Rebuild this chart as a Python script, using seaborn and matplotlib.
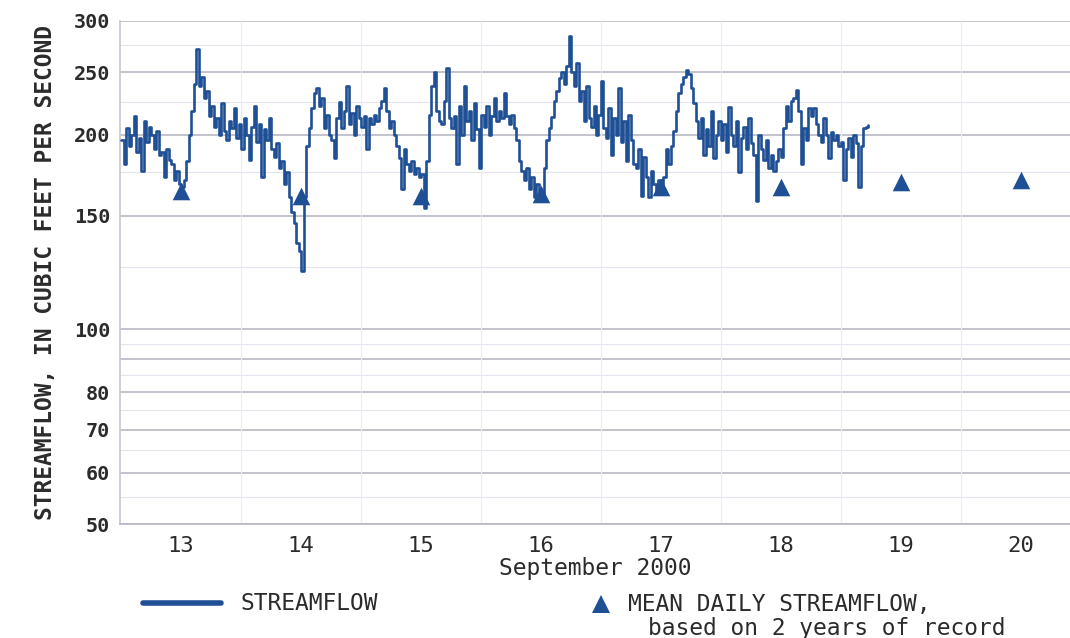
import numpy as np
import pandas as pd
import seaborn as sns
import matplotlib.pyplot as plt
from matplotlib.lines import Line2D

# 30-minute streamflow readings, cubic feet per second
flow = [
    196, 180, 205, 192, 200, 214, 188, 198, 176, 210, 195, 206,
    200, 190, 203, 186, 188, 172, 190, 183, 180, 170, 176, 168,
    166, 170, 182, 200, 218, 240, 272, 238, 246, 228, 234, 214,
    222, 206, 212, 200, 224, 203, 196, 210, 205, 220, 198, 208,
    190, 212, 200, 183, 206, 222, 195, 208, 172, 204, 196, 212,
    190, 185, 194, 178, 182, 168, 175, 160, 152, 146, 136, 132,
    123, 160, 192, 205, 220, 232, 236, 222, 228, 205, 215, 200,
    196, 184, 212, 225, 205, 218, 238, 208, 216, 200, 222, 212,
    206, 214, 190, 212, 208, 215, 210, 220, 226, 236, 218, 205,
    210, 200, 192, 184, 165, 190, 180, 176, 182, 174, 178, 172,
    174, 154, 182, 215, 238, 250, 218, 210, 208, 226, 254, 212,
    205, 214, 180, 222, 200, 238, 210, 218, 196, 224, 204, 178,
    215, 206, 222, 200, 214, 228, 210, 218, 212, 232, 214, 208,
    215, 205, 196, 182, 176, 170, 178, 165, 172, 160, 168, 162,
    162, 178, 196, 205, 213, 226, 234, 245, 250, 240, 256, 284,
    250, 238, 258, 226, 234, 210, 238, 212, 206, 222, 200, 215,
    242, 205, 198, 220, 186, 212, 200, 236, 195, 210, 182, 215,
    196, 180, 178, 190, 161, 185, 172, 160, 176, 168, 164, 170,
    166, 172, 190, 180, 192, 203, 218, 232, 240, 246, 252, 248,
    236, 224, 210, 198, 212, 186, 204, 192, 218, 184, 200, 210,
    196, 208, 188, 221, 200, 192, 210, 175, 198, 206, 190, 212,
    194, 186, 158, 200, 190, 183, 196, 178, 186, 176, 182, 190,
    185, 205, 222, 210, 226, 228, 235, 218, 180, 205, 196, 220,
    214, 220, 208, 200, 195, 212, 200, 184, 202, 196, 200, 192,
    195, 170, 190, 198, 185, 200, 194, 166, 192, 205, 206, 207,
]
start_day = 12.5

mean_days = [13, 14, 15, 16, 17, 18, 19, 20]
mean_flow = [164, 161, 161, 162, 166, 166, 169, 170]

y_ticks = [50, 60, 70, 80, 100, 150, 200, 250, 300]
grid_major = [50, 60, 70, 80, 90, 100, 150, 200, 250, 300]
grid_minor = [55, 65, 75, 85, 95, 125, 175, 225, 275]
day_ticks = [13, 14, 15, 16, 17, 18, 19, 20]
day_bounds = [13.5, 14.5, 15.5, 16.5, 17.5, 18.5, 19.5]

df = pd.DataFrame({'day': start_day + np.arange(len(flow)) / 48, 'flow': flow})
means = pd.DataFrame({'day': mean_days, 'flow': mean_flow})

blue = '#1f4f95'
txt = '#2b2b2b'

sns.set_theme(style='white')
plt.rcParams['font.family'] = ['DejaVu Sans Mono']

fig = plt.figure(figsize=(10.7, 6.38), dpi=100)
ax = fig.add_axes([120 / 1070, 1 - 524 / 638, 1 - 120 / 1070, 503 / 638])

for v in grid_minor:
    ax.axhline(v, color='#e4e4ee', lw=0.8, zorder=0)
for v in grid_major:
    ax.axhline(v, color='#b9b9c6', lw=1.2, zorder=0)
for d in day_bounds:
    ax.axvline(d, color='#ececf0', lw=0.8, zorder=0)

sns.lineplot(data=df, x='day', y='flow', ax=ax, color=blue, lw=1.9,
             drawstyle='steps-post', zorder=3)
sns.scatterplot(data=means, x='day', y='flow', ax=ax, marker='^', s=160,
                color=blue, edgecolor=blue, linewidth=0, zorder=4)

ax.set_yscale('log')
ax.set_ylim(50, 300)
ax.set_xlim(12.49, 20.41)
ax.set_yticks(y_ticks)
ax.set_yticklabels([str(v) for v in y_ticks], fontsize=14.5, fontweight='bold', color=txt)
ax.yaxis.set_minor_locator(plt.NullLocator())
ax.set_xticks(day_ticks)
ax.set_xticklabels([str(d) for d in day_ticks], fontsize=16, color=txt)
ax.tick_params(axis='y', length=0, pad=7)
ax.tick_params(axis='x', length=0, pad=9)

ax.set_xlabel('September 2000', fontsize=16.5, color=txt, labelpad=0)
ax.set_ylabel('STREAMFLOW, IN CUBIC FEET PER SECOND', fontsize=16.5,
              fontweight='bold', color=txt, labelpad=12)

for side in ['top', 'right']:
    ax.spines[side].set_visible(False)
ax.spines['left'].set_color('#c9c9d6')
ax.spines['bottom'].set_color('#b9b9c6')

# legend drawn under the plot
fig.add_artist(Line2D([143 / 1070, 221 / 1070], [1 - 603 / 638] * 2, color=blue, lw=4))
fig.text(240 / 1070, 1 - 604 / 638, 'STREAMFLOW', fontsize=16.5, color=txt, va='center')
fig.add_artist(Line2D([601 / 1070], [1 - 604 / 638], marker='^', markersize=13,
                      color=blue, markeredgewidth=0, linestyle='none'))
fig.text(628 / 1070, 1 - 604 / 638, 'MEAN DAILY STREAMFLOW,', fontsize=16.5, color=txt, va='center')
fig.text(648 / 1070, 1 - 628 / 638, 'based on 2 years of record', fontsize=16.5, color=txt, va='center')

fig.savefig('out.png', dpi=100, facecolor='white')
